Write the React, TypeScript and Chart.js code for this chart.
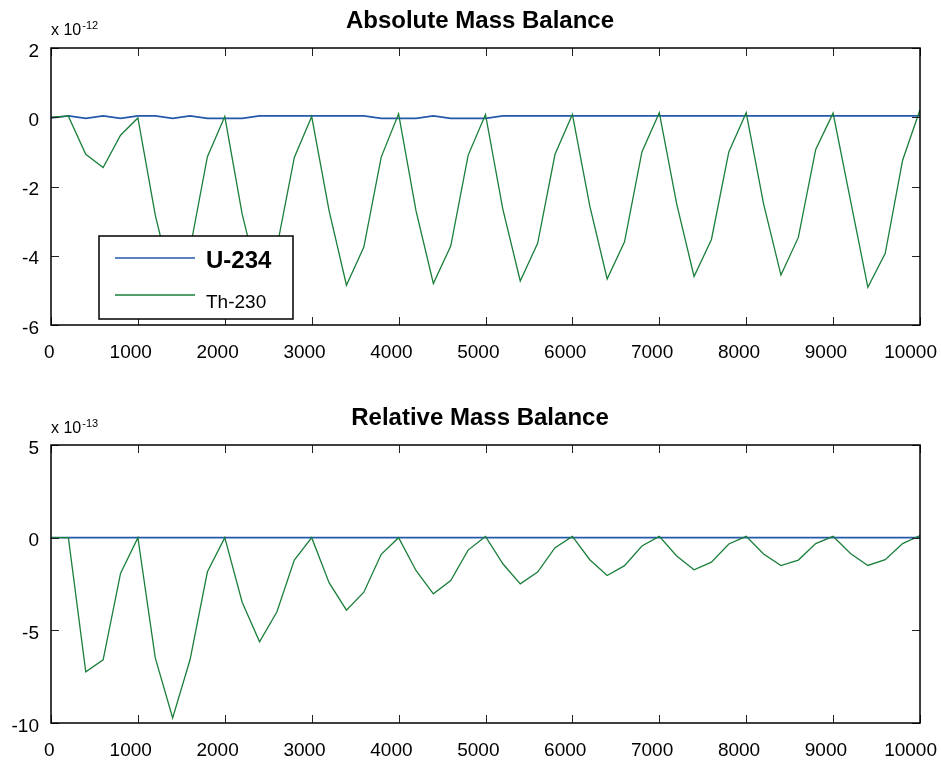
import React, { useEffect, useRef } from "react";
import { Chart, registerables } from "chart.js";
Chart.register(...registerables);

const TIMES = [
  0, 200, 400, 600, 800, 1000, 1200, 1400, 1600, 1800, 2000, 2200, 2400, 2600, 2800, 3000, 3200, 3400, 3600, 3800,
  4000, 4200, 4400, 4600, 4800, 5000, 5200, 5400, 5600, 5800, 6000, 6200, 6400, 6600, 6800, 7000, 7200, 7400, 7600,
  7800, 8000, 8200, 8400, 8600, 8800, 9000, 9200, 9400, 9600, 9800, 10000,
];

// Absolute mass balance (x 1e-12)
const ABS_U234 = [
  -0.02, 0.04, -0.03, 0.04, -0.03, 0.04, 0.04, -0.03, 0.04, -0.03, -0.03, -0.03, 0.04, 0.04, 0.04, 0.04, 0.04, 0.04,
  0.04, -0.03, -0.03, -0.03, 0.04, -0.03, -0.03, -0.03, 0.04, 0.04, 0.04, 0.04, 0.04, 0.04, 0.04, 0.04, 0.04, 0.04,
  0.04, 0.04, 0.04, 0.04, 0.04, 0.04, 0.04, 0.04, 0.04, 0.04, 0.04, 0.04, 0.04, 0.04, 0.04,
];
const ABS_TH230 = [
  0, 0.03, -1.07, -1.45, -0.52, -0.02, -2.83, -4.9, -3.8, -1.14, 0.02, -2.8, -4.85, -3.75, -1.16, 0.02, -2.7, -4.85,
  -3.75, -1.15, 0.1, -2.7, -4.8, -3.72, -1.1, 0.08, -2.66, -4.73, -3.64, -1.07, 0.08, -2.56, -4.67, -3.6, -1.0, 0.13,
  -2.5, -4.6, -3.53, -1.0, 0.13, -2.5, -4.56, -3.47, -0.93, 0.12, -2.4, -4.91, -3.93, -1.24, 0.22,
];

// Relative mass balance (x 1e-13)
const REL_U234 = [
  0, 0, 0, 0, 0, 0, 0, 0, 0, 0, 0, 0, 0, 0, 0, 0, 0, 0, 0, 0, 0, 0, 0, 0, 0, 0, 0, 0, 0, 0, 0, 0, 0, 0, 0, 0, 0, 0, 0,
  0, 0, 0, 0, 0, 0, 0, 0, 0, 0, 0, 0,
];
const REL_TH230 = [
  0, 0, -7.24, -6.59, -1.93, 0, -6.49, -9.73, -6.59, -1.84, 0, -3.48, -5.62, -4.0, -1.21, 0, -2.43, -3.91, -2.94,
  -0.9, 0, -1.77, -3.03, -2.31, -0.67, 0.07, -1.41, -2.49, -1.86, -0.54, 0.07, -1.19, -2.04, -1.51, -0.45, 0.07,
  -0.99, -1.73, -1.32, -0.34, 0.07, -0.88, -1.51, -1.21, -0.32, 0.07, -0.85, -1.5, -1.19, -0.32, 0.11,
];

const X_TICKS = [0, 1000, 2000, 3000, 4000, 5000, 6000, 7000, 8000, 9000, 10000];
const ABS_Y_TICKS = [-6, -4, -2, 0, 2];
const REL_Y_TICKS = [-10, -5, 0, 5];

const SERIES_NAMES = ["U-234", "Th-230"];
const TITLES = ["Absolute Mass Balance", "Relative Mass Balance"];
const EXPONENTS = ["-12", "-13"];

const FONT = '"Liberation Sans", Arial, Helvetica, sans-serif';
const BLUE = "#2458a8";
const GREEN = "#1a7f3a";

type PanelOpts = {
  height: number;
  padTop: number;
  xHeight: number;
  yMin: number;
  yMax: number;
  yTicks: number[];
  u: number[];
  th: number[];
  title: string;
  titleY: number;
  exp: string;
  expY: number;
  legend: boolean;
};

function makeDecor(o: PanelOpts) {
  return {
    id: "decor",
    afterDraw(chart: any) {
      const { ctx, chartArea: a, scales, width } = chart;
      ctx.save();
      // ticks (inward, all four sides)
      ctx.strokeStyle = "#222";
      ctx.lineWidth = 1;
      ctx.beginPath();
      X_TICKS.forEach((v) => {
        const px = Math.round(scales.x.getPixelForValue(v)) + 0.5;
        ctx.moveTo(px, a.bottom);
        ctx.lineTo(px, a.bottom - 8);
        ctx.moveTo(px, a.top);
        ctx.lineTo(px, a.top + 8);
      });
      o.yTicks.forEach((v) => {
        const py = Math.round(scales.y.getPixelForValue(v)) + 0.5;
        ctx.moveTo(a.left, py);
        ctx.lineTo(a.left + 8, py);
        ctx.moveTo(a.right, py);
        ctx.lineTo(a.right - 8, py);
      });
      ctx.stroke();
      // frame
      ctx.strokeStyle = "#000";
      ctx.lineWidth = 1.5;
      ctx.strokeRect(a.left, a.top, a.right - a.left, a.bottom - a.top);
      // x tick labels (slightly left-shifted, as in the reference)
      ctx.fillStyle = "#000";
      ctx.textBaseline = "alphabetic";
      ctx.textAlign = "center";
      ctx.font = `19px ${FONT}`;
      X_TICKS.forEach((v) => {
        const label = String(v);
        const w = ctx.measureText(label).width;
        let cx = scales.x.getPixelForValue(v) - 0.17 * w;
        cx = Math.min(cx, width - 4 - w / 2);
        ctx.fillText(label, cx, a.bottom + 33);
      });
      // title
      ctx.font = `bold 24px ${FONT}`;
      ctx.fillText(o.title, 480, o.titleY);
      // exponent label
      ctx.textAlign = "left";
      ctx.font = `16px ${FONT}`;
      ctx.fillText("x 10", 51, o.expY);
      const w = ctx.measureText("x 10").width;
      ctx.font = `11px ${FONT}`;
      ctx.fillText(o.exp, 51 + w + 1, o.expY - 6);
      // legend
      if (o.legend) {
        ctx.fillStyle = "#fff";
        ctx.fillRect(99, 236, 194, 83);
        ctx.strokeStyle = "#000";
        ctx.lineWidth = 1.5;
        ctx.strokeRect(99, 236, 194, 83);
        ctx.lineWidth = 1.5;
        ctx.strokeStyle = BLUE;
        ctx.beginPath();
        ctx.moveTo(115, 258);
        ctx.lineTo(195, 258);
        ctx.stroke();
        ctx.strokeStyle = GREEN;
        ctx.beginPath();
        ctx.moveTo(115, 295);
        ctx.lineTo(195, 295);
        ctx.stroke();
        ctx.fillStyle = "#000";
        ctx.font = `bold 24px ${FONT}`;
        ctx.fillText(SERIES_NAMES[0], 206, 268);
        ctx.font = `19px ${FONT}`;
        ctx.fillText(SERIES_NAMES[1], 206, 308);
      }
      ctx.restore();
    },
  };
}

function Panel(o: PanelOpts) {
  const ref = useRef<HTMLCanvasElement>(null);
  useEffect(() => {
    if (!ref.current) return;
    const chart = new Chart(ref.current, {
      type: "line",
      data: {
        datasets: [
          {
            label: SERIES_NAMES[0],
            data: TIMES.map((t, i) => ({ x: t, y: o.u[i] })),
            borderColor: BLUE,
            borderWidth: 1.8,
            pointRadius: 0,
            fill: false,
            order: 1,
          },
          {
            label: SERIES_NAMES[1],
            data: TIMES.map((t, i) => ({ x: t, y: o.th[i] })),
            borderColor: GREEN,
            borderWidth: 1.3,
            pointRadius: 0,
            fill: false,
            order: 0,
          },
        ],
      },
      options: {
        animation: false,
        responsive: false,
        maintainAspectRatio: false,
        layout: { padding: { top: o.padTop, right: 21, left: 0, bottom: 0 } },
        plugins: { legend: { display: false }, tooltip: { enabled: false }, title: { display: false } },
        elements: { line: { tension: 0 }, point: { radius: 0 } },
        scales: {
          x: {
            type: "linear",
            min: 0,
            max: 10000,
            afterBuildTicks: (s: any) => {
              s.ticks = X_TICKS.map((v) => ({ value: v }));
            },
            grid: { display: false, drawTicks: false },
            border: { display: false },
            ticks: { display: false },
            afterFit: (s: any) => {
              s.height = o.xHeight;
              s.paddingLeft = 0;
              s.paddingRight = 0;
            },
          },
          y: {
            type: "linear",
            min: o.yMin,
            max: o.yMax,
            afterBuildTicks: (s: any) => {
              s.ticks = o.yTicks.map((v) => ({ value: v }));
            },
            grid: { display: false, drawTicks: false },
            border: { display: false },
            ticks: { color: "#000", font: { family: FONT, size: 19 }, padding: 12, labelOffset: 3.5 },
            afterFit: (s: any) => {
              s.width = 51;
              s.paddingTop = 0;
              s.paddingBottom = 0;
            },
          },
        },
      } as any,
      plugins: [makeDecor(o)],
    });
    return () => chart.destroy();
  }, []);
  return <canvas ref={ref} width={941} height={o.height} style={{ display: "block" }} />;
}

export default function App() {
  return (
    <div style={{ position: "absolute", left: 0, top: 0, width: 941, height: 763, background: "#fff" }}>
      <Panel
        height={380}
        padTop={48}
        xHeight={55}
        yMin={-6}
        yMax={2}
        yTicks={ABS_Y_TICKS}
        u={ABS_U234}
        th={ABS_TH230}
        title={TITLES[0]}
        titleY={28}
        exp={EXPONENTS[0]}
        expY={35}
        legend={true}
      />
      <Panel
        height={383}
        padTop={65}
        xHeight={40}
        yMin={-10}
        yMax={5}
        yTicks={REL_Y_TICKS}
        u={REL_U234}
        th={REL_TH230}
        title={TITLES[1]}
        titleY={45}
        exp={EXPONENTS[1]}
        expY={53}
        legend={false}
      />
    </div>
  );
}
